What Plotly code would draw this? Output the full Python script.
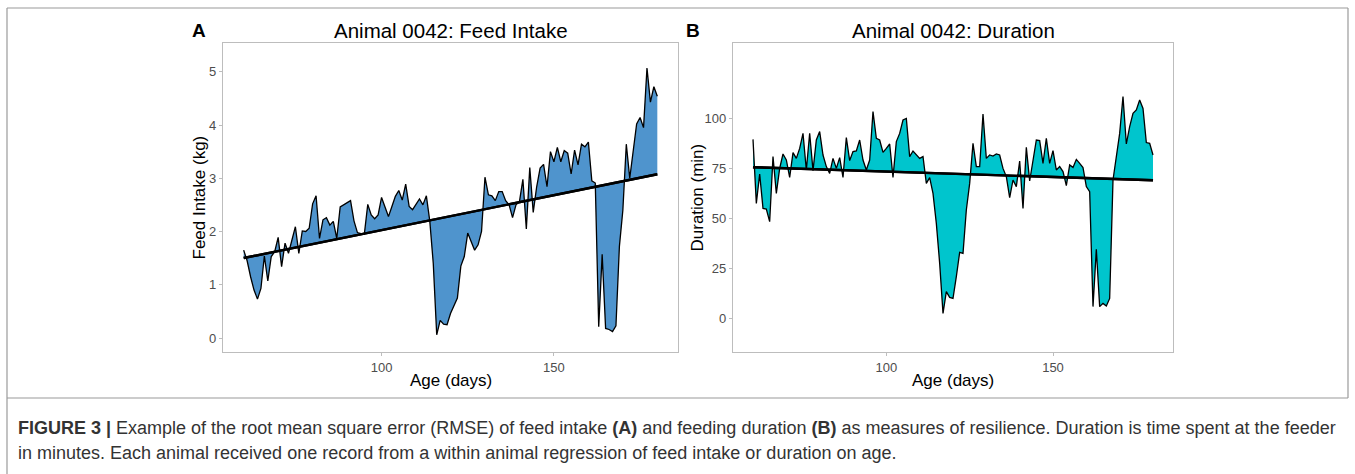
import numpy as np
import plotly.graph_objects as go

# ---------------- data ----------------
days = list(range(60, 181))

feed_intake = [
    1.65, 1.45, 1.15, 0.90, 0.73, 0.93, 1.54, 1.07, 1.53, 1.62,   # 60-69
    1.89, 1.34, 1.78, 1.59, 1.84, 2.09, 1.59, 2.01, 2.00, 2.06,   # 70-79
    2.52, 2.67, 1.87, 2.22, 2.26, 2.12, 2.19, 1.87, 2.46, 2.50,   # 80-89
    2.55, 2.58, 2.20, 1.98, 1.96, 1.95, 2.51, 2.31, 2.24, 2.31,   # 90-99
    2.64, 2.46, 2.28, 2.47, 2.66, 2.77, 2.59, 2.89, 2.47, 2.41,   # 100-109
    2.52, 2.61, 2.50, 2.67, 2.19, 1.40, 0.06, 0.33, 0.26, 0.25,   # 110-119
    0.46, 0.62, 0.75, 1.35, 1.53, 1.97, 1.80, 1.65, 1.75, 2.00,   # 120-129
    3.02, 2.69, 2.67, 2.58, 2.75, 2.75, 2.58, 2.50, 2.26, 2.50,   # 130-139
    2.56, 2.98, 2.05, 3.20, 2.36, 2.84, 3.19, 3.26, 2.84, 3.50,   # 140-149
    3.31, 3.58, 3.31, 3.52, 3.47, 3.08, 3.53, 3.25, 3.64, 3.59,   # 150-159
    3.68, 2.95, 2.91, 0.21, 1.57, 0.18, 0.16, 0.12, 0.23, 1.72,   # 160-169
    2.40, 3.64, 3.00, 3.52, 4.02, 4.14, 3.95, 5.07, 4.43, 4.72,   # 170-179
    4.54,                                                         # 180
]

duration = [
    89.3, 57.3, 72.0, 54.8, 54.5, 48.2, 80.7, 62.3, 74.8, 82.0,   # 60-69
    79.0, 70.3, 82.7, 79.8, 84.8, 92.3, 74.0, 92.3, 73.7, 89.0,   # 70-79
    93.2, 81.5, 75.7, 72.3, 79.8, 74.8, 80.2, 70.3, 90.2, 78.7,   # 80-89
    83.2, 83.5, 89.0, 79.0, 74.0, 79.0, 103.2, 89.8, 89.0, 82.8,  # 90-99
    84.8, 87.0, 70.3, 88.2, 92.3, 99.0, 99.8, 80.7, 83.5, 81.5,   # 100-109
    79.8, 80.7, 67.3, 70.2, 62.3, 47.3, 27.3, 2.3, 13.2, 10.3,    # 110-119
    9.8, 20.7, 32.8, 32.3, 54.0, 67.3, 87.3, 75.7, 75.7, 102.0,   # 120-129
    79.8, 81.5, 81.0, 82.0, 81.5, 74.8, 70.7, 60.2, 69.0, 65.7,   # 130-139
    78.5, 54.8, 85.3, 68.5, 79.0, 89.0, 88.7, 77.3, 89.8, 77.3,   # 140-149
    83.7, 74.0, 75.7, 73.2, 66.2, 76.5, 75.3, 79.3, 77.3, 75.2,   # 150-159
    65.7, 63.2, 5.7, 34.3, 5.7, 7.3, 6.0, 9.8, 69.0, 80.7,        # 160-169
    92.3, 110.7, 87.0, 95.7, 102.3, 104.0, 109.0, 104.8, 87.7, 87.3,  # 170-179
    81.5,                                                         # 180
]

x_ticks = [100, 150]
y_ticks_a = [0, 1, 2, 3, 4, 5]
y_ticks_b = [0, 25, 50, 75, 100]

panel_titles = ["Animal 0042: Feed Intake", "Animal 0042: Duration"]
panel_letters = ["A", "B"]
y_titles = ["Feed Intake (kg)", "Duration (min)"]
x_title = "Age (days)"

caption_1 = ("<b>FIGURE 3 |</b> Example of the root mean square error (RMSE) of feed intake <b>(A)</b> "
             "and feeding duration <b>(B)</b> as measures of resilience. Duration is time spent at the feeder")
caption_2 = "in minutes. Each animal received one record from a within animal regression of feed intake or duration on age."

# ---------------- figure ----------------
W, H = 1355, 474
def px_x(x):
    return x / W
def px_y(y):
    return 1 - y / H

fig = go.Figure()

def add_panel(xa, ya, values, color):
    x = np.array(days, dtype=float)
    y = np.array(values, dtype=float)
    slope, intercept = np.polyfit(x, y, 1)
    reg_x = [x.min(), x.max()]
    reg_y = [intercept + slope * v for v in reg_x]
    # regression line (base for fill)
    fig.add_trace(go.Scatter(x=reg_x, y=reg_y, mode="lines", line=dict(color="black", width=2.4),
                             xaxis=xa, yaxis=ya, showlegend=False, hoverinfo="skip"))
    fig.add_trace(go.Scatter(x=days, y=values, mode="lines", fill="tonexty", fillcolor=color,
                             line=dict(color="black", width=1.3), xaxis=xa, yaxis=ya, showlegend=False))
    # regression line on top
    fig.add_trace(go.Scatter(x=reg_x, y=reg_y, mode="lines", line=dict(color="black", width=2.4),
                             xaxis=xa, yaxis=ya, showlegend=False, hoverinfo="skip"))

add_panel("x", "y", feed_intake, "#4F94CD")
add_panel("x2", "y2", duration, "#00C5CD")

axis_common = dict(showgrid=False, zeroline=False, showline=True, mirror=True,
                   linecolor="#BDBDBD", linewidth=1.2, ticks="outside", ticklen=3,
                   tickcolor="#BDBDBD", tickwidth=1,
                   tickfont=dict(family="Liberation Sans, Arial, sans-serif", size=13, color="#4D4D4D"))

fig.update_layout(
    width=W, height=H, margin=dict(l=0, r=0, t=0, b=0),
    paper_bgcolor="white", plot_bgcolor="white",
    xaxis=dict(domain=[px_x(223), px_x(678)], range=[54, 186], tickvals=x_ticks, anchor="y", **axis_common),
    yaxis=dict(domain=[px_y(352), px_y(43)], range=[-0.263, 5.54], tickvals=y_ticks_a, anchor="x", **axis_common),
    xaxis2=dict(domain=[px_x(733), px_x(1173)], range=[54, 186], tickvals=x_ticks, anchor="y2", **axis_common),
    yaxis2=dict(domain=[px_y(352), px_y(43)], range=[-17, 137.5], tickvals=y_ticks_b, anchor="x2", **axis_common),
)

font_main = "Liberation Sans, Arial, sans-serif"
ann = []
# panel titles
for cx, t in zip([450.5, 953], panel_titles):
    ann.append(dict(x=px_x(cx), y=px_y(31), xref="paper", yref="paper", text=t, showarrow=False,
                    xanchor="center", yanchor="middle", font=dict(family=font_main, size=20.5, color="black")))
# letters
for lx, t in zip([199, 693], panel_letters):
    ann.append(dict(x=px_x(lx), y=px_y(31), xref="paper", yref="paper", text="<b>%s</b>" % t, showarrow=False,
                    xanchor="center", yanchor="middle", font=dict(family=font_main, size=19, color="black")))
# y titles
for yx, t in zip([199, 697], y_titles):
    ann.append(dict(x=px_x(yx), y=px_y(197.5), xref="paper", yref="paper", text=t, showarrow=False, textangle=-90,
                    xanchor="center", yanchor="middle", font=dict(family=font_main, size=17, color="black")))
# x titles
for cx in [450.5, 953]:
    ann.append(dict(x=px_x(cx), y=px_y(380), xref="paper", yref="paper", text=x_title, showarrow=False,
                    xanchor="center", yanchor="middle", font=dict(family=font_main, size=17, color="black")))
# caption
cap_font = dict(family="Liberation Sans, Arial, sans-serif", size=18, color="#333333")
ann.append(dict(x=px_x(16), y=px_y(428), xref="paper", yref="paper", text=caption_1, showarrow=False,
                xanchor="left", yanchor="middle", font=cap_font))
ann.append(dict(x=px_x(16), y=px_y(453), xref="paper", yref="paper", text=caption_2, showarrow=False,
                xanchor="left", yanchor="middle", font=cap_font))
fig.update_layout(annotations=ann)

# outer frame
frame_col = "#9A9A9A"
fig.update_layout(shapes=[
    dict(type="line", xref="paper", yref="paper", x0=px_x(7), x1=px_x(1348), y0=px_y(8), y1=px_y(8),
         line=dict(color=frame_col, width=1.2)),
    dict(type="line", xref="paper", yref="paper", x0=px_x(7), x1=px_x(1348), y0=px_y(398), y1=px_y(398),
         line=dict(color=frame_col, width=1.2)),
    dict(type="line", xref="paper", yref="paper", x0=px_x(7), x1=px_x(7), y0=px_y(8), y1=0,
         line=dict(color=frame_col, width=1.2)),
    dict(type="line", xref="paper", yref="paper", x0=px_x(1348), x1=px_x(1348), y0=px_y(8), y1=px_y(398),
         line=dict(color=frame_col, width=1.2)),
])

fig.write_html("out.html")
